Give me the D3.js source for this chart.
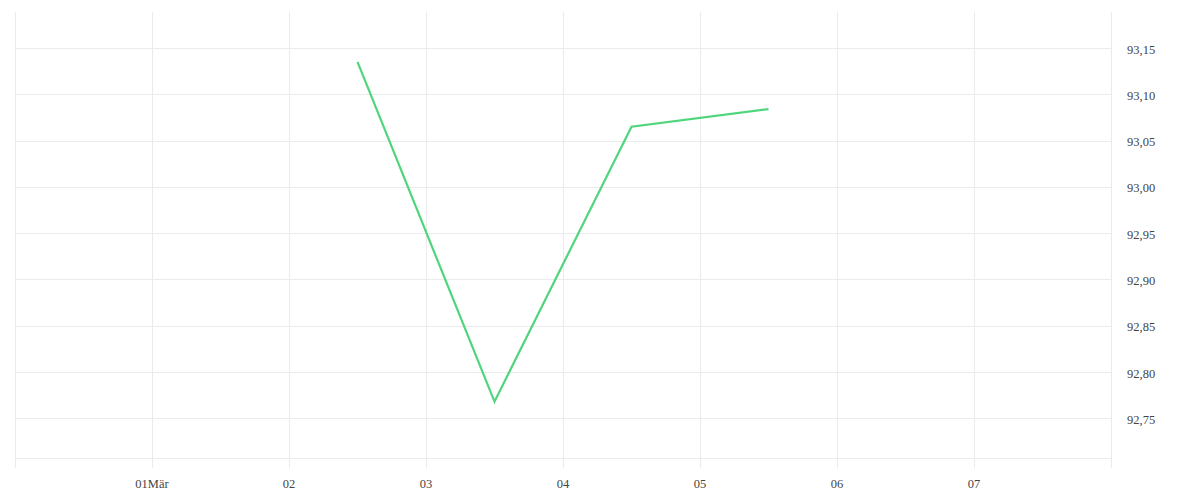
<!DOCTYPE html>
<html><head><meta charset="utf-8">
<script src="https://cdn.jsdelivr.net/npm/d3@7/dist/d3.min.js"></script>
<style>
html,body{margin:0;padding:0;background:#fff;}
text{font-family:"Liberation Serif","DejaVu Serif",serif;font-size:12.5px;fill:#444;}
</style></head><body>
<svg id="chart" width="1200" height="500"></svg>
<script>
const dates = ["2024-03-02T12:00","2024-03-03T12:00","2024-03-04T12:00","2024-03-05T12:00"];
const values = [93.135, 92.768, 93.065, 93.084];
const xTickDates = ["2024-03-01","2024-03-02","2024-03-03","2024-03-04","2024-03-05","2024-03-06","2024-03-07"];
const xTickLabels = ["01Mär","02","03","04","05","06","07"];
const yTicks = [92.75,92.80,92.85,92.90,92.95,93.00,93.05,93.10,93.15];
const xDomain = ["2024-02-29","2024-03-08"];
const yDomain = [92.7068, 93.1889];

const parse = d3.timeParse("%Y-%m-%dT%H:%M");
const parseD = d3.timeParse("%Y-%m-%d");
const svg = d3.select("#chart");
const L=15, R=1111, T=12, B=458.3;
const x = d3.scaleTime().domain(xDomain.map(parseD)).range([L,R]);
const y = d3.scaleLinear().domain(yDomain).range([B,T]);

// vertical grid
const vgrid = [parseD(xDomain[0])].concat(xTickDates.map(parseD)).concat([parseD(xDomain[1])]);
svg.append("g").selectAll("line").data(vgrid).join("line")
  .attr("x1",d=>Math.floor(x(d))+0.5).attr("x2",d=>Math.floor(x(d))+0.5)
  .attr("y1",T).attr("y2",468)
  .attr("stroke","#ebebeb").attr("stroke-width",1);
// horizontal grid
svg.append("g").selectAll("line").data(yTicks.concat([yDomain[0]])).join("line")
  .attr("x1",L).attr("x2",R)
  .attr("y1",d=>Math.round(y(d))+0.5).attr("y2",d=>Math.round(y(d))+0.5)
  .attr("stroke","#ebebeb").attr("stroke-width",1);

// x labels
svg.append("g").selectAll("text").data(xTickDates).join("text")
  .attr("x",d=>x(parseD(d))).attr("y",488)
  .attr("text-anchor","middle")
  .text((d,i)=>xTickLabels[i]);
// y labels
const fmt = v => d3.format(".2f")(v).replace(".",",");
svg.append("g").selectAll("text").data(yTicks).join("text")
  .attr("x",1127).attr("y",d=>y(d)+5.5)
  .text(d=>fmt(d));

// line
const pts = dates.map((d,i)=>({t:parse(d),v:values[i]}));
svg.append("path").datum(pts)
  .attr("fill","none").attr("stroke","#4fd57c").attr("stroke-width",2.2)
  .attr("stroke-linejoin","miter")
  .attr("d",d3.line().x(d=>x(d.t)).y(d=>y(d.v)));
</script>
</body></html>
